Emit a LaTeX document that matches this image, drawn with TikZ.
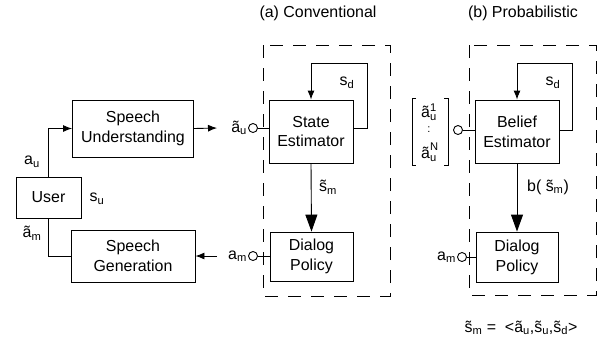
\documentclass[tikz,border=0pt]{standalone}
\usepackage{fontspec}
\setmainfont{Liberation Sans}
\usetikzlibrary{positioning, arrows.meta, calc}

\begin{document}
\begin{tikzpicture}[x=1bp, y=-1bp,
        font=\fontsize{16}{20}\selectfont,
        blk/.style={rectangle, draw, line width=0.9pt, align=center, inner sep=0pt},
        arr/.style={-{Latex[length=9bp,width=7bp]}, line width=0.9pt},
        bigarr/.style={-{Triangle[length=17bp,width=12bp]}, line width=0.9pt},
        port/.style={circle, draw, line width=0.9pt, minimum size=9bp, inner sep=0pt},
        frame/.style={draw, line width=0.9pt, dash pattern=on 13bp off 10bp},
        lbl/.style={inner sep=1pt}
    ]
    \useasboundingbox (0,0) rectangle (601,345);
    % user side
    \node[blk, minimum width=65bp, minimum height=41bp] (user) at (48.5,197.5) {User};
    \node[blk, minimum width=121bp, minimum height=57bp] (su) at (133,128.5) {Speech\\Understanding};
    \node[blk, minimum width=124bp, minimum height=52bp] (sg) at (133,256) {Speech\\Generation};
    \draw[arr] (user.north) |- (su.west);
    \draw[line width=0.9pt] (sg.west) -| (user.south);
    \node[lbl] (au) at (32,162) {a\textsubscript{u}};
    \node[lbl] (su-s) at (97,199) {s\textsubscript{u}};
    \node[lbl] (amt) at (32,233) {ã\textsubscript{m}};
    \coordinate (suout) at (217,128);
    \coordinate (amin) at (217,256);
    \draw[arr] (su.east) -- (suout);
    \draw[arr] (amin) -- (sg.east);

    % (a) conventional
    \node (ttla) at (318,13) {(a) Conventional};
    \draw[frame] (263,45) rectangle (390,296);
    \node[blk, minimum width=84bp, minimum height=63bp] (se) at (311,131.5) {State\\Estimator};
    \node[blk, minimum width=83bp, minimum height=49bp] (dpa) at (311.5,256.5) {Dialog\\Policy};
    \node[port] (pa1) at (253,128) {};
    \node[port] (pa2) at (253,256) {};
    \node[lbl, left=0pt of pa1] (aut) {ã\textsubscript{u}};
    \node[lbl, left=0pt of pa2] (ama) {a\textsubscript{m}};
    \draw[line width=0.9pt] (pa1) -- (pa1 -| se.west);
    \draw[line width=0.9pt] (pa2) -- (pa2 -| dpa.west);
    \coordinate (sda) at (367,63);
    \draw[arr] (se.east |- pa1) -| (sda) -| (se.north);
    \node[lbl] (sdat) at (347,83) {s\textsubscript{d}};
    \draw[bigarr] (se.south) -- (dpa.north);
    \node[lbl, anchor=west] (sma) at (318,187) {s̃\textsubscript{m}};

    % (b) probabilistic
    \node (ttlb) at (523,13) {(b) Probabilistic};
    \draw[frame] (469,45) rectangle (596,295);
    \node[blk, minimum width=84bp, minimum height=63bp] (be) at (517,131.5) {Belief\\Estimator};
    \node[blk, minimum width=82bp, minimum height=50bp] (dpb) at (517,257) {Dialog\\Policy};
    \node[port] (pb1) at (458,130) {};
    \node[port] (pb2) at (462,257) {};
    \node[lbl, left=0pt of pb2] (amb) {a\textsubscript{m}};
    \draw[line width=0.9pt] (pb1) -- (pb1 -| be.west);
    \draw[line width=0.9pt] (pb2) -- (pb2 -| dpb.west);
    \coordinate (sdb) at (572,63);
    \draw[arr] (be.east |- pb1) -| (sdb) -| (be.north);
    \node[lbl] (sdbt) at (553,83) {s\textsubscript{d}};
    \draw[bigarr] (be.south) -- (dpb.north);
    \node[lbl] (bsm) at (548,187) {b( s̃\textsubscript{m})};
    % n-best list
    \draw[line width=0.9pt] (416,98) -- (412,98) -- (412,165) -- (416,165);
    \draw[line width=0.9pt] (444,98) -- (448,98) -- (448,165) -- (444,165);
    \node[lbl] (nb1) at (429,112) {ã\rlap{\textsuperscript{1}}\textsubscript{u}};
    \node[lbl, font=\fontsize{11}{11}\selectfont] (nbd) at (429,130) {:};
    \node[lbl] (nbn) at (429,152) {ã\rlap{\raisebox{2bp}{\textsuperscript{N}}}\textsubscript{u}};

    \node (defn) at (521,328) {s̃\textsubscript{m} =\ \ <ã\textsubscript{u},s̃\textsubscript{u},s̃\textsubscript{d}>};
\end{tikzpicture}
\end{document}
